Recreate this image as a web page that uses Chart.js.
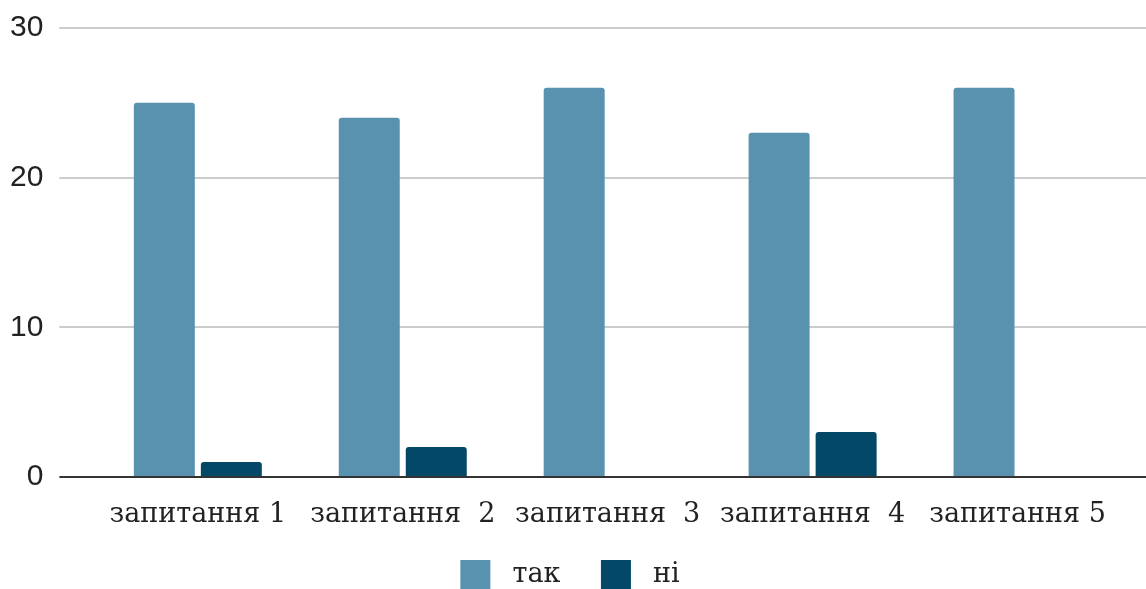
<!DOCTYPE html>
<html>
<head>
<meta charset="utf-8">
<script src="https://cdn.jsdelivr.net/npm/chart.js@4/dist/chart.umd.min.js"></script>
<style>
  html, body { margin: 0; padding: 0; background: #fff; overflow: hidden; }
  #wrap { position: relative; width: 1146px; height: 600px; }
</style>
</head>
<body>
<div id="wrap"><canvas id="answersChart"></canvas></div>
<script>
// data
const questions = ['запитання 1', 'запитання  2', 'запитання  3', 'запитання  4', 'запитання 5'];
const yesValues = [25, 24, 26, 23, 26];
const noValues = [1, 2, 0, 3, 0];
const yTicks = [0, 10, 20, 30];

const lightBlue = '#5892af';
const darkBlue = '#034866';
const serifFont = "'DejaVu Serif', serif";

const gridColor = ctx => (ctx.tick && ctx.tick.value === 0) ? '#333333' : '#cccccc';

document.addEventListener('DOMContentLoaded', () => {
    const ctx = document.getElementById('answersChart').getContext('2d');
    new Chart(ctx, {
        type: 'bar',
        data: {
            labels: questions,
            datasets: [
                {
                    label: 'так',
                    data: yesValues,
                    backgroundColor: lightBlue,
                    borderRadius: { topLeft: 3, topRight: 3 },
                    borderSkipped: 'start'
                },
                {
                    label: 'ні',
                    data: noValues,
                    backgroundColor: darkBlue,
                    borderRadius: { topLeft: 3, topRight: 3 },
                    borderSkipped: 'start'
                }
            ]
        },
        options: {
            responsive: true,
            maintainAspectRatio: false,
            animation: false,
            categoryPercentage: 0.654,
            barPercentage: 0.91,
            layout: { padding: { left: -6, top: 28, right: 0, bottom: 0 } },
            plugins: {
                tooltip: { enabled: false },
                legend: {
                    position: 'bottom',
                    labels: {
                        boxWidth: 30,
                        boxHeight: 30,
                        padding: 32,
                        color: '#222',
                        font: { family: serifFont, size: 27 },
                        // a little extra air around the legend words, like the original
                        generateLabels: chart => Chart.defaults.plugins.legend.labels.generateLabels(chart)
                            .map((item, i, all) => ({ ...item, text: ' ' + item.text + (i < all.length - 1 ? ' ' : '') }))
                    }
                }
            },
            scales: {
                x: {
                    // invisible tick marks push the labels down without the doubled padding
                    grid: { display: true, drawOnChartArea: false, drawTicks: true, tickLength: 25, tickColor: 'rgba(0,0,0,0)', color: 'rgba(0,0,0,0)' },
                    border: { display: false },
                    ticks: {
                        color: '#222',
                        padding: 0,
                        autoSkip: false,
                        maxRotation: 0,
                        font: { family: serifFont, size: 27, lineHeight: 0.963 }
                    }
                },
                y: {
                    min: 0,
                    max: 30,
                    afterBuildTicks: axis => { axis.ticks = yTicks.map(v => ({ value: v })); },
                    grid: { color: gridColor, tickColor: gridColor, lineWidth: 2, tickLength: 36 },
                    border: { display: false },
                    ticks: {
                        color: '#222',
                        padding: 16,
                        font: { family: "'Liberation Sans', Arial, sans-serif", size: 30, lineHeight: 0.7 }
                    }
                },
                yRight: {
                    position: 'right',
                    min: 0,
                    max: 30,
                    afterBuildTicks: axis => { axis.ticks = yTicks.map(v => ({ value: v })); },
                    grid: { drawOnChartArea: false, color: gridColor, tickColor: gridColor, lineWidth: 2, tickLength: 26 },
                    border: { display: false },
                    ticks: { display: false }
                }
            }
        }
    });
});
</script>
</body>
</html>
